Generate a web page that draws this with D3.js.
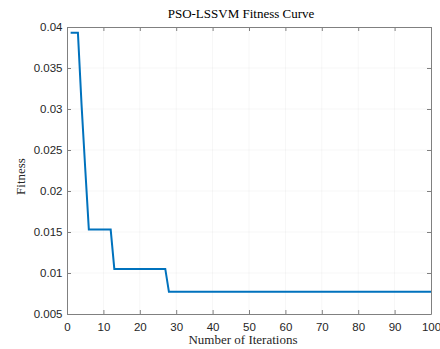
<!DOCTYPE html>
<html><head><meta charset="utf-8">
<script src="https://cdn.jsdelivr.net/npm/d3@7"></script>
<style>body{margin:0;background:#fff}svg{display:block}</style>
</head><body>
<svg id="c" width="440" height="349"></svg>
<script>
const title = "PSO-LSSVM Fitness Curve";
const xLabel = "Number of Iterations";
const yLabel = "Fitness";
const xTicks = [0,10,20,30,40,50,60,70,80,90,100];
const yTicks = [0.005,0.01,0.015,0.02,0.025,0.03,0.035,0.04];
const iterations = d3.range(1, 101);
const fitness = [
  0.0393,0.0393,0.0393,0.0305,0.0228,0.0153,0.0153,0.0153,0.0153,0.0153,
  0.0153,0.0153,0.0105,0.0105,0.0105,0.0105,0.0105,0.0105,0.0105,0.0105,
  0.0105,0.0105,0.0105,0.0105,0.0105,0.0105,0.0105,0.0077,0.0077,0.0077,
  0.0077,0.0077,0.0077,0.0077,0.0077,0.0077,0.0077,0.0077,0.0077,0.0077,
  0.0077,0.0077,0.0077,0.0077,0.0077,0.0077,0.0077,0.0077,0.0077,0.0077,
  0.0077,0.0077,0.0077,0.0077,0.0077,0.0077,0.0077,0.0077,0.0077,0.0077,
  0.0077,0.0077,0.0077,0.0077,0.0077,0.0077,0.0077,0.0077,0.0077,0.0077,
  0.0077,0.0077,0.0077,0.0077,0.0077,0.0077,0.0077,0.0077,0.0077,0.0077,
  0.0077,0.0077,0.0077,0.0077,0.0077,0.0077,0.0077,0.0077,0.0077,0.0077,
  0.0077,0.0077,0.0077,0.0077,0.0077,0.0077,0.0077,0.0077,0.0077,0.0077
];

const L = 67, R = 431, T = 27, B = 314;
const svg = d3.select("#c");
const x = d3.scaleLinear().domain([0,100]).range([L,R]);
const y = d3.scaleLinear().domain([0.005,0.04]).range([B,T]);
const axisColor = "#808080";
const textColor = "#262626";

// grid
const g = svg.append("g");
g.selectAll(".gx").data(xTicks.slice(1,-1)).join("line")
  .attr("x1", d=>x(d)).attr("x2", d=>x(d)).attr("y1", T).attr("y2", B)
  .attr("stroke", "#000").attr("stroke-opacity", 0.035).attr("stroke-width", 1);
g.selectAll(".gy").data(yTicks.slice(1,-1)).join("line")
  .attr("y1", d=>y(d)).attr("y2", d=>y(d)).attr("x1", L).attr("x2", R)
  .attr("stroke", "#000").attr("stroke-opacity", 0.035).attr("stroke-width", 1);

// data line
const line = d3.line().x((d,i)=>x(iterations[i])).y(d=>y(d));
svg.append("path").datum(fitness).attr("d", line)
  .attr("fill","none").attr("stroke","#0072BD").attr("stroke-width",2)
  .attr("stroke-linejoin","miter");

const fmtY = d => String(+d.toFixed(3));
const xb = svg.append("g").attr("transform",`translate(0,${B})`)
  .call(d3.axisBottom(x).tickValues(xTicks).tickSizeInner(-4).tickSizeOuter(0).tickPadding(9));
const xt = svg.append("g").attr("transform",`translate(0,${T})`)
  .call(d3.axisTop(x).tickValues(xTicks).tickSizeInner(-4).tickSizeOuter(0).tickFormat(""));
const yl = svg.append("g").attr("transform",`translate(${L},0)`)
  .call(d3.axisLeft(y).tickValues(yTicks).tickSizeInner(-4).tickSizeOuter(0).tickPadding(4.5).tickFormat(fmtY));
const yr = svg.append("g").attr("transform",`translate(${R},0)`)
  .call(d3.axisRight(y).tickValues(yTicks).tickSizeInner(-4).tickSizeOuter(0).tickFormat(""));

[xb,xt,yl,yr].forEach(a=>{
  a.select(".domain").attr("stroke",axisColor).attr("stroke-width",1);
  a.selectAll(".tick line").attr("stroke",axisColor);
  a.selectAll("text").attr("fill",textColor)
    .style("font-family","'Liberation Sans', Arial, sans-serif").style("font-size","11.5px");
});

const serif = "'Liberation Serif', 'Times New Roman', serif";
svg.append("text").attr("x", 241).attr("y", 18.3).attr("text-anchor","middle")
  .style("font-family", serif).style("font-size","13px")
  .attr("fill", "#000").text(title);
svg.append("text").attr("x", 243).attr("y", 344.3).attr("text-anchor","middle")
  .style("font-family", serif).style("font-size","13px")
  .attr("fill", textColor).text(xLabel);
svg.append("text").attr("transform", `translate(24.5,176.5) rotate(-90)`).attr("text-anchor","middle")
  .style("font-family", serif).style("font-size","13px")
  .attr("fill", textColor).text(yLabel);
</script>
</body></html>
